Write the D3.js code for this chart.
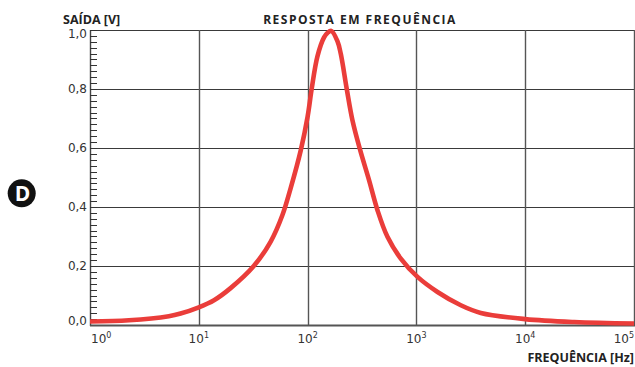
<!DOCTYPE html>
<html>
<head>
<meta charset="utf-8">
<script src="https://cdn.jsdelivr.net/npm/d3@7"></script>
<style>
  html, body { margin: 0; padding: 0; background: #fff; }
  svg { display: block; }
</style>
</head>
<body>
<svg id="chart" width="635" height="367"></svg>
<script>
// Frequency response of a band-pass circuit (output voltage vs. frequency)
const frequencies = [1, 2.28, 5.3, 6.8, 10, 13.8, 19.6, 32, 45.8, 58.6, 70, 86.5, 100, 109, 123, 141.6, 152, 165, 188, 201.6, 229, 258, 303, 367, 439, 542, 719, 1024, 1563, 2560, 3908, 10000, 28200, 100000];
const outputVolts = [0.012, 0.016, 0.03, 0.039, 0.06, 0.084, 0.125, 0.2, 0.283, 0.372, 0.465, 0.592, 0.706, 0.8, 0.91, 0.975, 0.99, 0.997, 0.962, 0.92, 0.8, 0.695, 0.595, 0.491, 0.389, 0.299, 0.225, 0.163, 0.112, 0.067, 0.041, 0.02, 0.01, 0.005];
const xTickValues = [1, 10, 100, 1000, 10000, 100000];
const xTickExponents = ["0", "1", "2", "3", "4", "5"];
const yTickValues = [0, 0.2, 0.4, 0.6, 0.8, 1.0];
const yTickLabels = ["0,0", "0,2", "0,4", "0,6", "0,8", "1,0"];

const svg = d3.select("#chart");
const plotLeft = 90, plotRight = 634, plotTop = 30, plotBottom = 325;

const x = d3.scaleLog().domain([1, 100000]).range([plotLeft, plotRight]);
const y = d3.scaleLinear().domain([0, 1]).range([plotBottom, plotTop]);

const gridColor = "#3a3a3a";
const crisp = v => Math.round(v) + 0.5;

// horizontal grid lines
svg.append("g").selectAll("line").data(yTickValues).join("line")
  .attr("x1", plotLeft).attr("x2", 635)
  .attr("y1", d => crisp(y(d))).attr("y2", d => crisp(y(d)))
  .attr("stroke", gridColor).attr("stroke-width", 1.2);

// vertical grid lines at each decade
svg.append("g").selectAll("line").data(xTickValues.slice(1)).join("line")
  .attr("x1", d => crisp(x(d))).attr("x2", d => crisp(x(d)))
  .attr("y1", plotTop).attr("y2", plotBottom)
  .attr("stroke", "#555").attr("stroke-width", 1.4);

// left axis line with minor ticks
svg.append("line")
  .attr("x1", crisp(plotLeft)).attr("x2", crisp(plotLeft))
  .attr("y1", plotTop).attr("y2", plotBottom + 1)
  .attr("stroke", "#444").attr("stroke-width", 1.4);

const minor = d3.range(0, 51).map(i => i * 0.02);
svg.append("g").selectAll("line").data(minor).join("line")
  .attr("x1", plotLeft).attr("x2", plotLeft + 7)
  .attr("y1", d => crisp(y(d))).attr("y2", d => crisp(y(d)))
  .attr("stroke", "#333").attr("stroke-width", 1);

// bottom axis line
svg.append("line")
  .attr("x1", plotLeft).attr("x2", 635)
  .attr("y1", plotBottom + 0.5).attr("y2", plotBottom + 0.5)
  .attr("stroke", "#555").attr("stroke-width", 1.8);

// y tick labels
svg.append("g").selectAll("text").data(yTickValues).join("text")
  .attr("x", 87)
  .attr("y", (d, i) => y(d) + (i === 0 ? -4 : i === yTickValues.length - 1 ? 4 : 0))
  .attr("dy", "0.36em")
  .attr("text-anchor", "end")
  .attr("font-family", "DejaVu Sans, Verdana, sans-serif")
  .attr("font-size", 12)
  .attr("fill", "#333")
  .text((d, i) => yTickLabels[i]);

// x tick labels as powers of ten (outer ones kept inside the frame)
const lastTick = xTickValues.length - 1;
const xl = svg.append("g").selectAll("text").data(xTickValues).join("text")
  .attr("x", (d, i) => i === 0 ? x(d) + 1 : i === lastTick ? 634 : x(d))
  .attr("y", 343)
  .attr("text-anchor", (d, i) => i === 0 ? "start" : i === lastTick ? "end" : "middle")
  .attr("font-family", "DejaVu Sans, Verdana, sans-serif")
  .attr("font-size", 12)
  .attr("fill", "#333");
xl.append("tspan").text("10");
xl.append("tspan").attr("font-size", 8).attr("dy", -5).text((d, i) => xTickExponents[i]);

// response curve
const line = d3.line()
  .x((d, i) => x(frequencies[i]))
  .y(d => y(d))
  .curve(d3.curveCatmullRom.alpha(0.5));

svg.append("clipPath").attr("id", "plotClip")
  .append("rect").attr("x", plotLeft).attr("y", 0).attr("width", 635 - plotLeft).attr("height", plotBottom + 2);

svg.append("path")
  .datum(outputVolts)
  .attr("clip-path", "url(#plotClip)")
  .attr("d", line)
  .attr("fill", "none")
  .attr("stroke", "#ea3d3a")
  .attr("stroke-width", 4.6)
  .attr("stroke-linejoin", "round");

// titles
const boldFont = "'Open Sans', sans-serif";
svg.append("text")
  .attr("x", 63).attr("y", 24)
  .attr("font-family", boldFont).attr("font-weight", "bold")
  .attr("font-size", 12.5).attr("fill", "#222")
  .text("SAÍDA [V]");

svg.append("text")
  .attr("x", 360).attr("y", 23.5)
  .attr("text-anchor", "middle")
  .attr("font-family", boldFont).attr("font-weight", "bold")
  .attr("font-size", 12).attr("letter-spacing", 1.5).attr("fill", "#222")
  .text("RESPOSTA EM FREQUÊNCIA");

svg.append("text")
  .attr("x", 634).attr("y", 362)
  .attr("text-anchor", "end")
  .attr("font-family", boldFont).attr("font-weight", "bold")
  .attr("font-size", 12.5).attr("fill", "#222")
  .text("FREQUÊNCIA [Hz]");

// option marker
svg.append("circle").attr("cx", 21.7).attr("cy", 193.3).attr("r", 14).attr("fill", "#111");
svg.append("text")
  .attr("x", 22.5).attr("y", 193.5).attr("dy", "0.36em")
  .attr("text-anchor", "middle")
  .attr("font-family", "'Open Sans', sans-serif").attr("font-weight", "bold")
  .attr("font-size", 21).attr("fill", "#fff")
  .text("D");
</script>
</body>
</html>
